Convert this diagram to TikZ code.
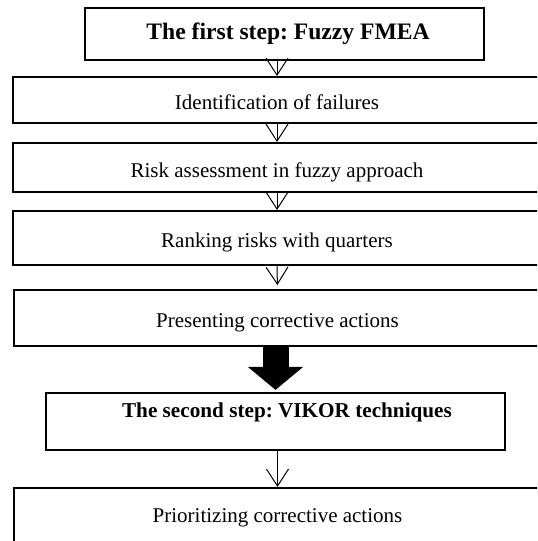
\documentclass[tikz,border=0pt]{standalone}
\usepackage{fontspec}
\setmainfont{Liberation Serif}
\usetikzlibrary{arrows.meta}
\usetikzlibrary{positioning}
\frenchspacing

\tikzset{
    steptext/.style={
        font=\fontsize{10.5}{12.6}\selectfont,
        text height=9.5pt, text depth=0pt,
    },
    stepbox/.style={
        rectangle, draw=black, line width=1pt,
        minimum width=264pt, inner sep=0pt,
        steptext,
    },
    titlebox/.style={
        rectangle, draw=black, line width=1.1pt, inner sep=0pt,
        font=\fontsize{10.6}{12.7}\selectfont\bfseries,
    },
    vtip/.style={
        draw=black, line width=0.5pt,
        -{Straight Barb[length=8.5pt, width=11pt]},
    },
    bigtip/.style={
        draw=black, line width=13pt,
        -{Triangle[length=11.5pt, width=27pt]},
    },
}

\begin{document}
\begin{tikzpicture}[x=0.5pt, y=-0.5pt]
    \useasboundingbox (0,0) rectangle (537,541);
    \clip (0,0) rectangle (537,541);

    % first step
    \node (step1) at(284.5,34) [
        titlebox, line width=1.3pt,
        minimum width=199.5pt, minimum height=26pt,
        font=\fontsize{11.8}{14}\selectfont\bfseries,
    ] {};
    \node (step1text) at(288,34) [
        font=\fontsize{11.8}{14}\selectfont\bfseries,
    ] {The first step: Fuzzy FMEA};

    \node (fail) at(277,100) [stepbox, minimum height=23pt] {Identification of failures};
    \node (risk) at(277,167.5) [stepbox, minimum height=24.5pt] {Risk assessment in fuzzy approach};
    \node (rank) at(277,238) [stepbox, minimum height=27pt] {Ranking risks with quarters};
    \node (act) at(277.5,318) [stepbox, minimum height=28pt] {Presenting corrective actions};

    % second step
    \node (step2) at(275.5,421.5) [
        titlebox,
        minimum width=229.5pt, minimum height=28.5pt,
    ] {};
    \node (step2text) at(287,412) [
        font=\fontsize{10.6}{12.7}\selectfont\bfseries,
    ] {The second step: VIKOR techniques};

    \node (prior) at(277.5,487) [stepbox, anchor=north, minimum height=60pt] {};
    \node (priortext) at(277.5,513) [steptext] {Prioritizing corrective actions};

    \draw[vtip] (fail.north |- step1.south) -- (fail.north);
    \draw[vtip] (fail.south) -- (risk.north);
    \draw[vtip] (risk.south) -- (rank.north);
    \draw[vtip, shorten >=2pt] (rank.south) -- (act.north);
    \draw[bigtip, shorten >=1pt] (step2.north |- act.south) -- (step2.north);
    \draw[vtip] (prior.north |- step2.south) -- (prior.north);
\end{tikzpicture}
\end{document}
